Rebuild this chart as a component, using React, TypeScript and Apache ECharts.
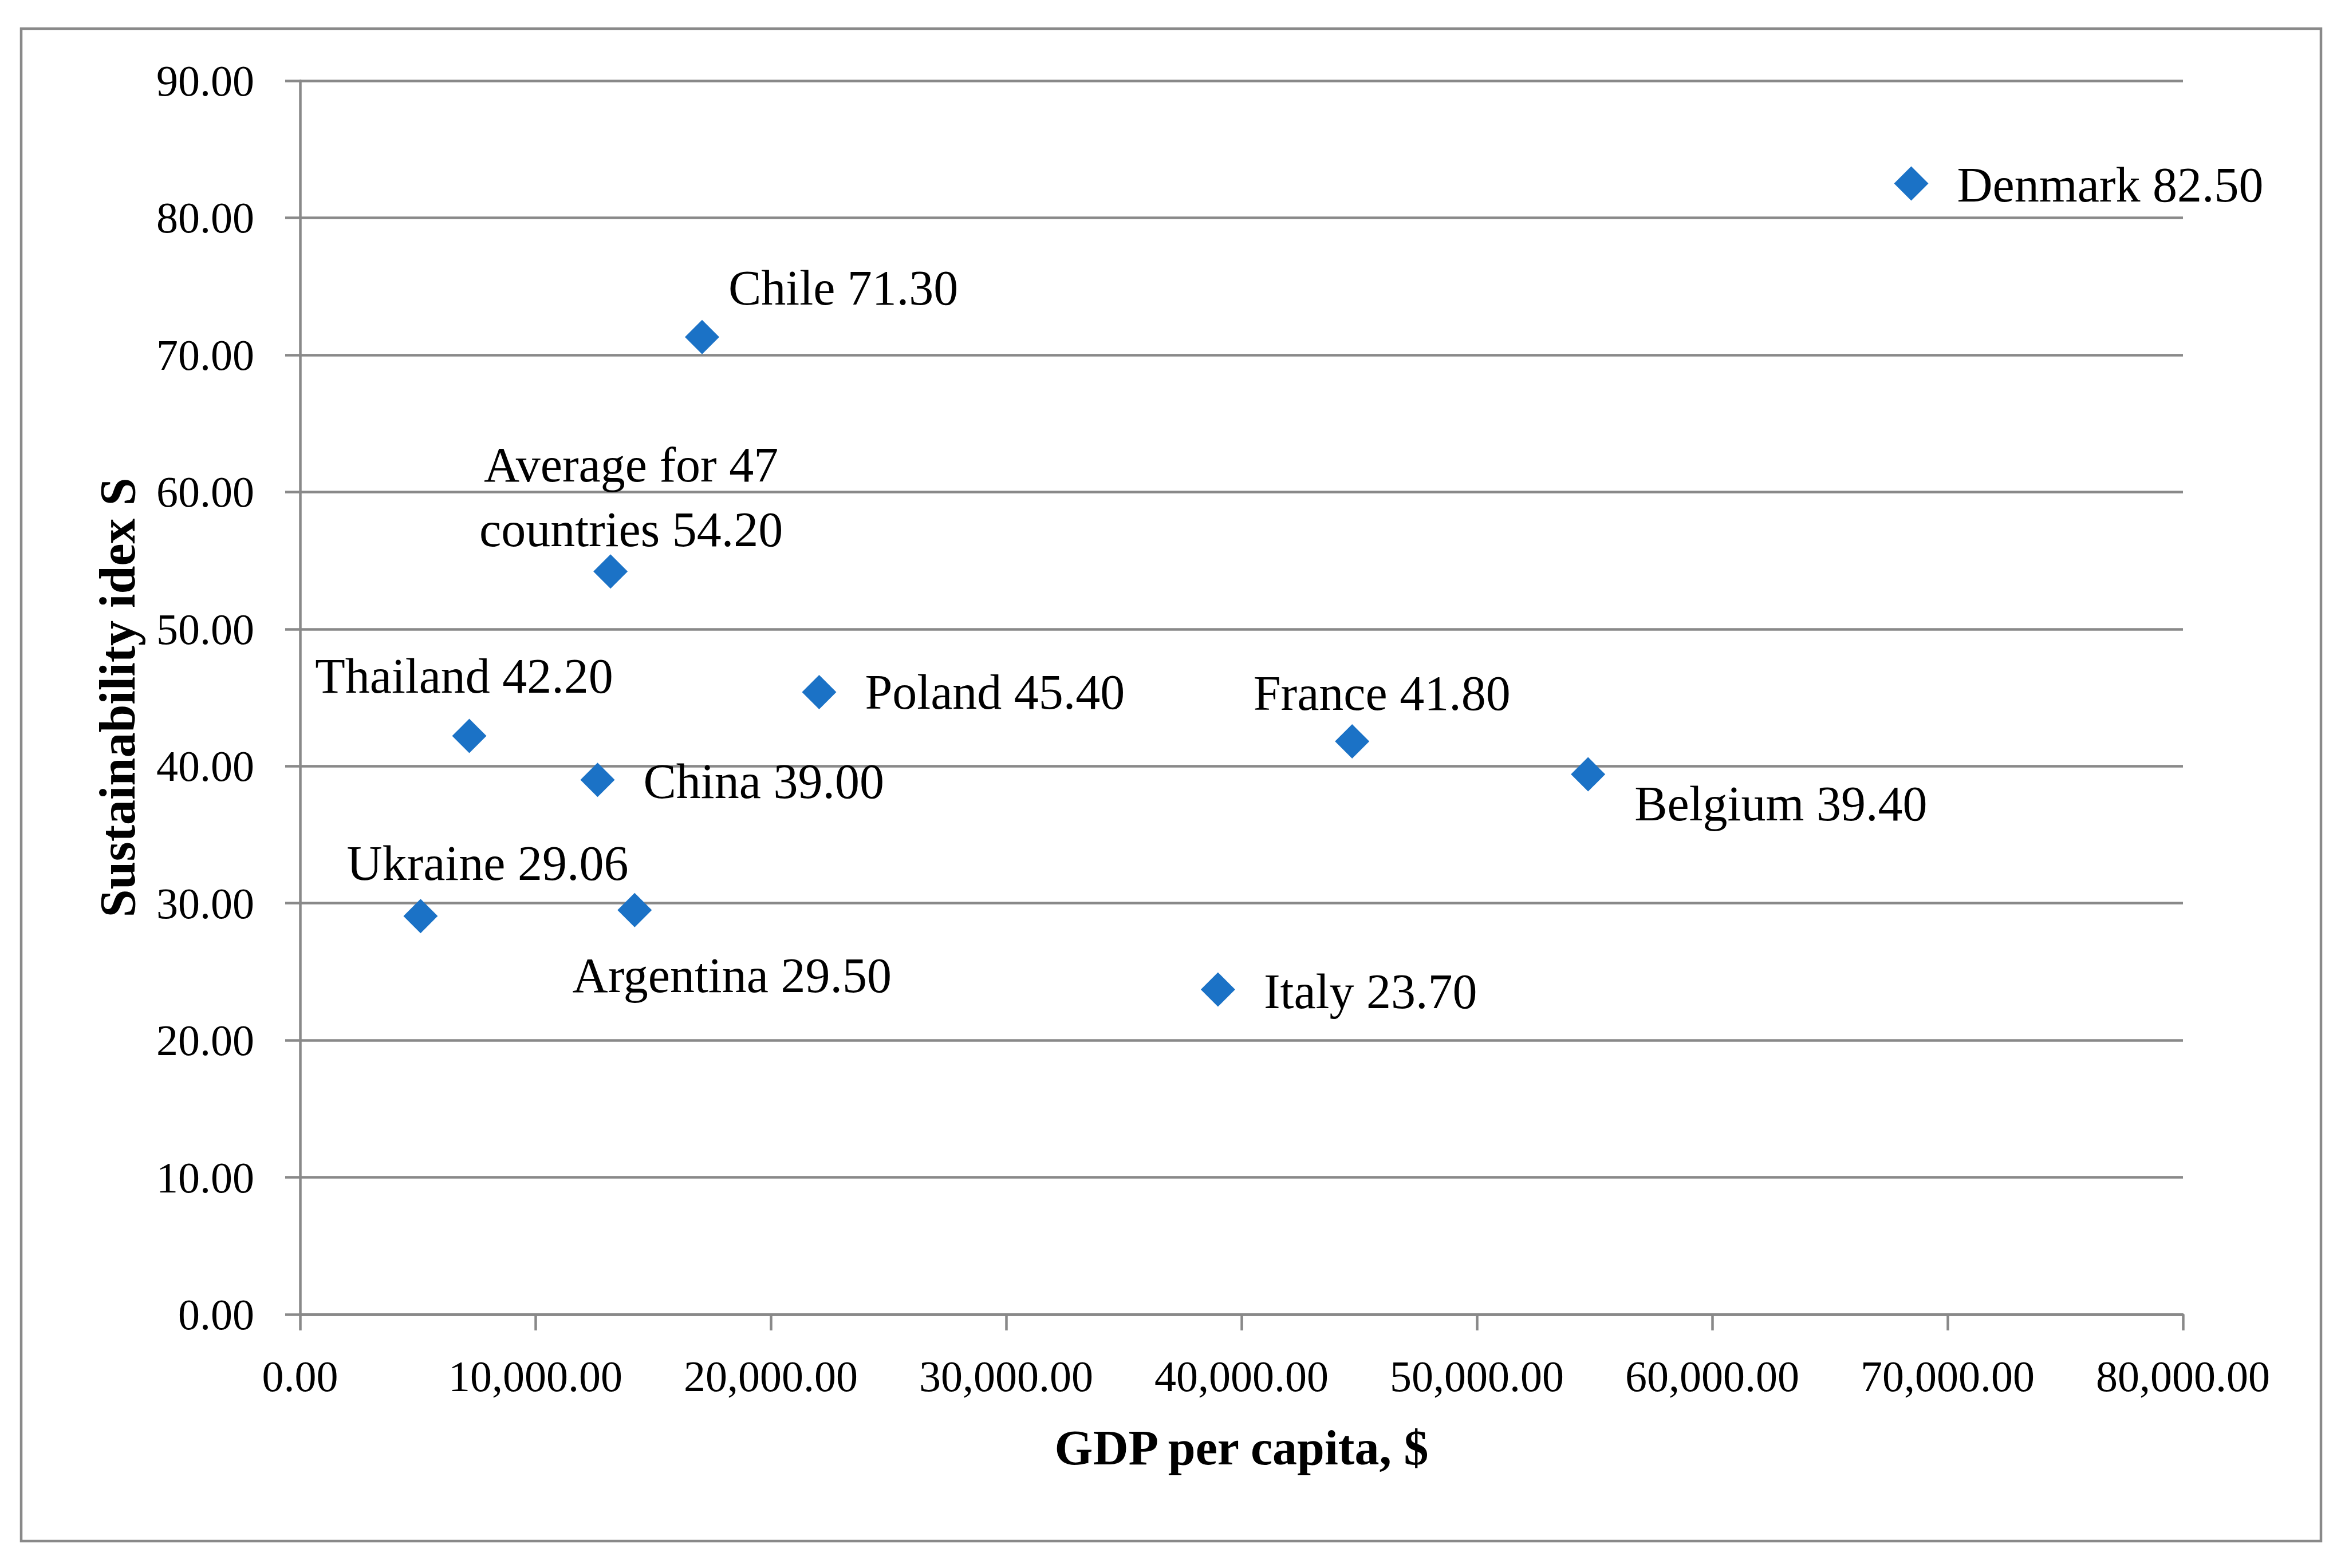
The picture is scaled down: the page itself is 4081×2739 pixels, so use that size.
import { useEffect, useRef } from 'react'
import * as echarts from 'echarts'

// Values
const COUNTRIES = [
  'Denmark',
  'Chile',
  'Average for 47\ncountries',
  'Thailand',
  'Poland',
  'China',
  'Ukraine',
  'Argentina',
  'France',
  'Belgium',
  'Italy',
]
const GDP_PER_CAPITA = [68455, 17080, 13190, 7190, 22055, 12640, 5120, 14215, 44700, 54725, 39000]
const SUSTAINABILITY = [82.5, 71.3, 54.2, 42.2, 45.4, 39.0, 29.06, 29.5, 41.8, 39.4, 23.7]

const X_TITLE = 'GDP per capita, $'
const Y_TITLE = 'Sustainability idex S'

/** where each data label sits relative to its marker (manual placement as in the original) */
type Placement = { align: 'left' | 'center'; dx: number; dy: number }
const LABEL_PLACEMENT: Placement[] = [
  { align: 'left', dx: 80, dy: 2 },
  { align: 'left', dx: 46, dy: -86 },
  { align: 'center', dx: 36, dy: -130 },
  { align: 'center', dx: -9, dy: -105 },
  { align: 'left', dx: 80, dy: 0 },
  { align: 'left', dx: 80, dy: 3 },
  { align: 'center', dx: 117, dy: -92 },
  { align: 'center', dx: 170, dy: 114 },
  { align: 'center', dx: 52, dy: -84 },
  { align: 'left', dx: 81, dy: 51 },
  { align: 'left', dx: 80, dy: 3 },
]

const FONT = "'Liberation Serif', 'Times New Roman', serif"
const GRAY = '#898989'
const MARKER = '#1b72c6'
const W = 4081
const H = 2739

function fmt(v: number) {
  return v.toLocaleString('en-US', { minimumFractionDigits: 2, maximumFractionDigits: 2 })
}

function buildOption(): echarts.EChartsOption {
  return {
    animation: false,
    backgroundColor: '#ffffff',
    grid: { left: 524, top: 141, right: W - 3812, bottom: H - 2296, containLabel: false },
    graphic: [
      {
        type: 'rect',
        shape: { x: 37, y: 50, width: 4016, height: 2642 },
        style: { fill: 'none', stroke: GRAY, lineWidth: 4.5 },
        z: -1,
      },
    ],
    xAxis: {
      type: 'value',
      min: 0,
      max: 80000,
      interval: 10000,
      name: X_TITLE,
      nameLocation: 'middle',
      nameGap: 190,
      nameTextStyle: { fontFamily: FONT, fontSize: 86, fontWeight: 'bold', color: '#000' },
      axisLine: { show: true, lineStyle: { color: GRAY, width: 4.5 } },
      axisTick: { show: true, length: 28, lineStyle: { color: GRAY, width: 4.5 } },
      axisLabel: {
        margin: 70,
        fontFamily: FONT,
        fontSize: 76,
        color: '#000',
        formatter: (v: number) => fmt(v),
        showMinLabel: true,
        showMaxLabel: true,
      },
      splitLine: { show: false },
    },
    yAxis: {
      type: 'value',
      min: 0,
      max: 90,
      interval: 10,
      name: Y_TITLE,
      nameLocation: 'middle',
      nameGap: 275,
      nameTextStyle: { fontFamily: FONT, fontSize: 88, fontWeight: 'bold', color: '#000' },
      axisLine: { show: true, lineStyle: { color: GRAY, width: 4.5 } },
      axisTick: { show: true, length: 26, lineStyle: { color: GRAY, width: 4.5 } },
      axisLabel: {
        margin: 80,
        fontFamily: FONT,
        fontSize: 76,
        color: '#000',
        formatter: (v: number) => v.toFixed(2),
      },
      splitLine: { show: true, lineStyle: { color: GRAY, width: 4.5 } },
    },
    series: [
      {
        type: 'scatter',
        symbol: 'diamond',
        symbolSize: 60,
        itemStyle: { color: MARKER, opacity: 1 },
        data: COUNTRIES.map((name, i) => {
          const p = LABEL_PLACEMENT[i]
          return {
            name,
            value: [GDP_PER_CAPITA[i], SUSTAINABILITY[i]],
            label: {
              show: true,
              position: 'inside',
              align: p.align,
              verticalAlign: 'middle',
              offset: [p.dx, p.dy],
              formatter: `${name} ${SUSTAINABILITY[i].toFixed(2)}`,
              fontFamily: FONT,
              fontSize: 86,
              lineHeight: 113,
              color: '#000',
            },
          }
        }),
      },
    ],
  }
}

export default function App() {
  const ref = useRef<HTMLDivElement>(null)

  useEffect(() => {
    document.body.style.margin = '0'
    const el = ref.current
    if (!el) return
    const chart = echarts.init(el, undefined, { renderer: 'svg' })
    chart.setOption(buildOption())
    return () => chart.dispose()
  }, [])

  return <div ref={ref} style={{ width: W, height: H }} />
}
